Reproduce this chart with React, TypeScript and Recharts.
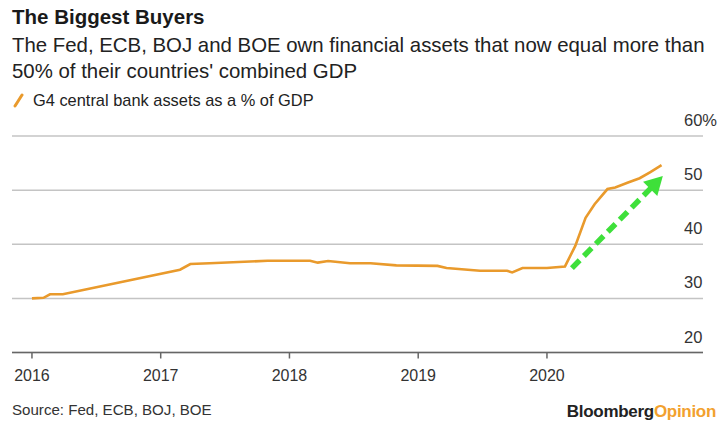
import React from "react";
import { LineChart, Line, XAxis, YAxis, CartesianGrid, ReferenceLine } from "recharts";

const years = [2016.0, 2016.09, 2016.14, 2016.24, 2017.15, 2017.23, 2017.38, 2017.83, 2018.16, 2018.22, 2018.3, 2018.47, 2018.63, 2018.83, 2019.15, 2019.22, 2019.48, 2019.69, 2019.73, 2019.81, 2020.0, 2020.14, 2020.22, 2020.3, 2020.37, 2020.47, 2020.53, 2020.63, 2020.72, 2020.8, 2020.89];
const assetsPctGdp = [30.0, 30.1, 30.75, 30.75, 35.3, 36.35, 36.5, 36.95, 36.95, 36.6, 36.9, 36.5, 36.5, 36.1, 36.0, 35.6, 35.1, 35.1, 34.8, 35.6, 35.6, 35.9, 39.7, 44.9, 47.4, 50.2, 50.5, 51.4, 52.2, 53.3, 54.6];
const xTicks = [2016, 2017, 2018, 2019, 2020];
const yTicks = [20, 30, 40, 50, 60];
const yTickLabels = ["20", "30", "40", "50", "60%"];
const arrowStart = { x: 2020.194, y: 35.6 };
const arrowEnd = { x: 2020.9, y: 52.6 };

const data = years.map((t, i) => ({ t, v: assetsPctGdp[i] }));

const FONT = '"Liberation Sans", Arial, Helvetica, sans-serif';
const ORANGE = "#e99a2c";
const W = 726;
const H = 433;
const MARGIN = { top: 136, right: 22, bottom: 50.5, left: 12 };
const PLOT_RIGHT = 703;

const renderYTick = (props: any) => {
  const { y, payload } = props;
  const idx = yTicks.indexOf(payload.value);
  const label = idx >= 0 ? yTickLabels[idx] : String(payload.value);
  return (
    <text key={`yt-${payload.value}`} x={PLOT_RIGHT - 19} y={y - 10} fontSize={16.5} fill="#333" fontFamily={FONT} textAnchor="start">
      {label}
    </text>
  );
};

const Arrow = (props: any) => {
  const { x1, y1, x2, y2 } = props;
  if (x1 == null) return null;
  const dx = x2 - x1;
  const dy = y2 - y1;
  const len = Math.sqrt(dx * dx + dy * dy);
  const ux = dx / len;
  const uy = dy / len;
  const head = 18;
  const half = 10;
  const bx = x2 - ux * head;
  const by = y2 - uy * head;
  const px = -uy;
  const py = ux;
  return (
    <g>
      <line x1={x1} y1={y1} x2={bx + ux * 2} y2={by + uy * 2} stroke="#3ee03a" strokeWidth={5.5} strokeDasharray="11 6" />
      <polygon
        points={`${x2},${y2} ${bx + px * half},${by + py * half} ${bx - px * half},${by - py * half}`}
        fill="#3ee03a"
      />
    </g>
  );
};

export default function App() {
  return (
    <div style={{ position: "absolute", left: 0, top: 0, width: W, height: H, background: "#fff", fontFamily: FONT, color: "#1a1a1a" }}>
      <div style={{ position: "absolute", left: 12, top: 5, fontSize: 20.5, lineHeight: "24px", fontWeight: 700, whiteSpace: "nowrap" }}>
        The Biggest Buyers
      </div>
      <div style={{ position: "absolute", left: 12, top: 32, fontSize: 20.4, lineHeight: "26px", whiteSpace: "nowrap", color: "#222" }}>
        <div>The Fed, ECB, BOJ and BOE own financial assets that now equal more than</div>
        <div>50% of their countries' combined GDP</div>
      </div>
      <div style={{ position: "absolute", left: 12, top: 90, height: 20, display: "flex", alignItems: "center", whiteSpace: "nowrap" }}>
        <svg width={14} height={16} style={{ marginRight: 7 }}>
          <line x1={3} y1={14} x2={10} y2={3} stroke={ORANGE} strokeWidth={3} strokeLinecap="round" />
        </svg>
        <span style={{ fontSize: 16.4, lineHeight: "20px", color: "#222" }}>G4 central bank assets as a % of GDP</span>
      </div>
      <div style={{ position: "absolute", left: 0, top: 0 }}>
        <LineChart width={W} height={H} data={data} margin={MARGIN}>
          <CartesianGrid horizontal vertical={false} stroke="#c4c4c4" strokeWidth={1.5} />
          <XAxis
            dataKey="t"
            type="number"
            domain={[2015.845, 2021.212]}
            allowDataOverflow
            ticks={xTicks}
            tickFormatter={(v: number) => String(v)}
            stroke="#666"
            strokeWidth={1.5}
            tickSize={6}
            tickMargin={11}
            tick={{ fontSize: 16, fill: "#333", fontFamily: FONT }}
            height={30}
          />
          <YAxis
            orientation="right"
            type="number"
            domain={[20, 60]}
            ticks={yTicks}
            width={1}
            axisLine={false}
            tickLine={false}
            tick={renderYTick}
            allowDataOverflow
          />
          <Line
            type="linear"
            dataKey="v"
            stroke={ORANGE}
            strokeWidth={2.6}
            dot={false}
            isAnimationActive={false}
          />
          <ReferenceLine segment={[arrowStart, arrowEnd]} shape={<Arrow />} ifOverflow="visible" />
        </LineChart>
      </div>
      <div style={{ position: "absolute", left: 12, top: 400, fontSize: 15.1, lineHeight: "20px", color: "#333", whiteSpace: "nowrap" }}>
        Source: Fed, ECB, BOJ, BOE
      </div>
      <div style={{ position: "absolute", right: 10, top: 402, fontSize: 17, lineHeight: "20px", fontWeight: 700, whiteSpace: "nowrap", letterSpacing: -0.3 }}>
        <span style={{ color: "#222" }}>Bloomberg</span>
        <span style={{ color: "#f2a12e" }}>Opinion</span>
      </div>
    </div>
  );
}
